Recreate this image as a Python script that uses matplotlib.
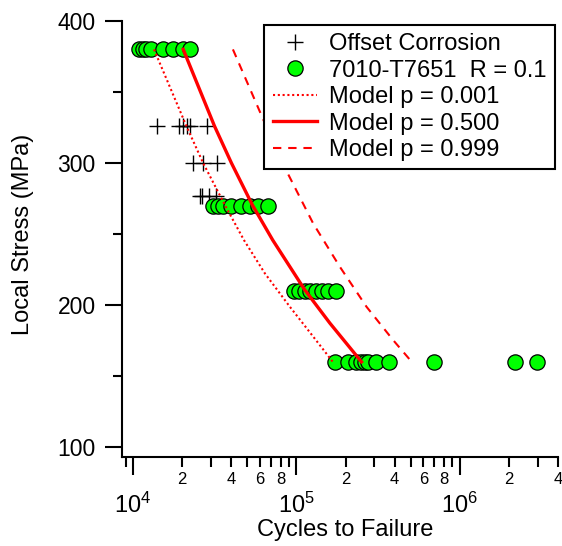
import numpy as np
import matplotlib
matplotlib.use('Agg')
import matplotlib.pyplot as plt
import matplotlib.ticker as mticker

# measured data (cycles to failure, local stress in MPa)
stress_rows = [380, 270, 210, 160]
cycles_rows = [
    [10880, 11520, 12010, 12890, 15260, 17560, 20220, 22320],
    [30850, 33110, 35520, 39760, 45770, 51940, 58150, 66950],
    [96540, 103600, 112700, 120900, 131600, 143200, 155900, 174400],
    [171900, 207500, 233400, 250500, 262400, 274900, 309300, 367900, 693000, 2171000, 2971000],
]

corr_stress_rows = [326, 300, 277]
corr_cycles_rows = [
    [13960, 19190, 20310, 21380, 22320, 28240],
    [23380, 26910, 32510],
    [25690, 26610, 29160, 32180],
]

# model curves
p001_stress = [380, 325.6, 299.8, 270.4, 245.8, 222.3, 198.8, 175.4, 160]
p001_cycles = [13440, 21300, 26920, 36530, 47730, 64160, 91250, 131600, 167200]
p500_stress = [380, 326.1, 300.0, 270.4, 245.8, 210.6, 187.3, 160]
p500_cycles = [20300, 31510, 40040, 53820, 71610, 112700, 160300, 250500]
p999_stress = [380, 328, 293.9, 257.5, 227, 198.8, 175.4, 160]
p999_cycles = [40890, 64160, 87490, 126700, 184500, 268800, 390800, 508700]

plt.rcParams['font.family'] = ['Liberation Sans', 'DejaVu Sans']

fig = plt.figure(figsize=(5.62, 5.46), dpi=100)
ax = fig.add_axes([122 / 562, 1 - 457 / 546, 436 / 562, 436 / 546])

cx = np.concatenate([np.array(c, float) for c in corr_cycles_rows])
cy = np.concatenate([[s] * len(c) for s, c in zip(corr_stress_rows, corr_cycles_rows)])
gx = np.concatenate([np.array(c, float) for c in cycles_rows])
gy = np.concatenate([[s] * len(c) for s, c in zip(stress_rows, cycles_rows)])

ax.plot(cx, cy, '+', color='black', ms=11, mew=1.0, label='Offset Corrosion', clip_on=False)
ax.plot(gx, gy, 'o', mfc='#00ff00', mec='black', ms=11, mew=0.9,
        label='7010-T7651  R = 0.1', clip_on=False)
ax.plot(p001_cycles, p001_stress, color='red', lw=1.5, ls=(0, (1, 1.3)), label='Model p = 0.001')
ax.plot(p500_cycles, p500_stress, color='red', lw=2.4, label='Model p = 0.500')
ax.plot(p999_cycles, p999_stress, color='red', lw=1.5, ls=(0, (4, 3.3)), label='Model p = 0.999')

ax.set_xscale('log')
ax.set_xlim(8560, 4.0e6)
ax.set_ylim(93, 400)

for side in ['top', 'right']:
    ax.spines[side].set_visible(False)
for side in ['left', 'bottom']:
    ax.spines[side].set_linewidth(1.5)

ax.set_yticks([100, 200, 300, 400])
ax.set_yticks([150, 250, 350], minor=True)
ax.xaxis.set_major_locator(mticker.LogLocator(base=10, numticks=20))
ax.xaxis.set_minor_locator(mticker.LogLocator(base=10, subs=np.arange(2, 10), numticks=20))
ax.xaxis.set_major_formatter(mticker.LogFormatterSciNotation())


def minor_label(v, pos):
    m = int(round(v / 10 ** np.floor(np.log10(v) + 1e-9)))
    return str(m) if m in (2, 4, 6, 8) else ''


ax.xaxis.set_minor_formatter(mticker.FuncFormatter(minor_label))

ax.tick_params(axis='y', which='major', length=12, width=1.5, labelsize=16.5, pad=7)
ax.tick_params(axis='y', which='minor', length=6.5, width=1.5)
ax.tick_params(axis='x', which='major', length=13, width=1.5, labelsize=17, pad=12.5)
ax.tick_params(axis='x', which='minor', length=7, width=1.5, labelsize=12, pad=4)

ax.set_xlabel('Cycles to Failure', fontsize=17)
ax.xaxis.set_label_coords(0.5126, -0.142)
ax.set_ylabel('Local Stress (MPa)', fontsize=17)
ax.yaxis.set_label_coords(-0.202, 0.5115)

leg = ax.legend(loc='upper right', bbox_to_anchor=(555 / 562, 1 - 25 / 546),
                bbox_transform=fig.transFigure, fontsize=17, numpoints=1,
                fancybox=False, framealpha=1, edgecolor='black',
                handlelength=1.9, handletextpad=0.5, labelspacing=0.19,
                borderpad=0.35, borderaxespad=0)
leg.get_frame().set_linewidth(1.5)

fig.savefig('out.png', dpi=100)
